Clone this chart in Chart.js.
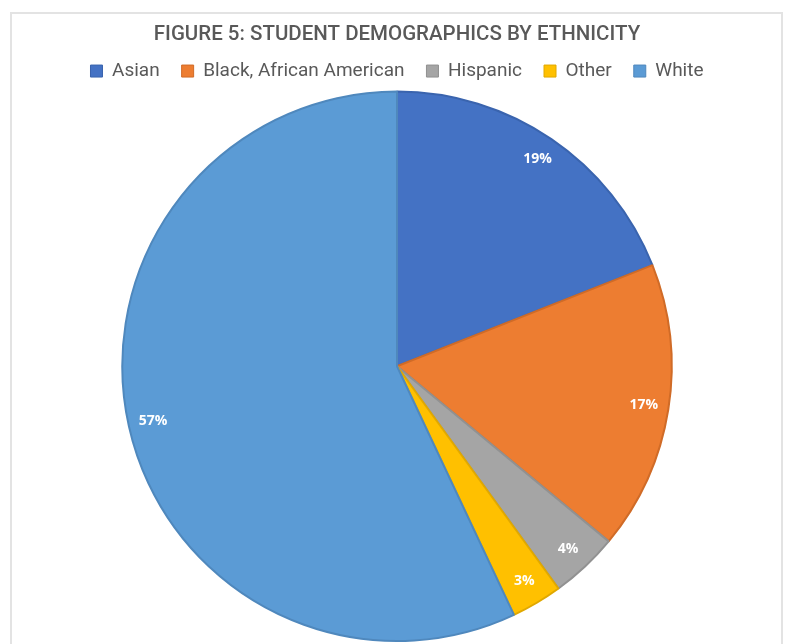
<!DOCTYPE html>
<html>
<head>
<meta charset="utf-8">
<style>
  html, body { margin: 0; padding: 0; background: #ffffff; }
  #wrap { position: relative; width: 790px; height: 644px; overflow: hidden; }
  #frame { position: absolute; left: 10px; top: 12px; width: 773px; height: 700px; border: 2px solid #e3e3e3; box-sizing: border-box; }
  canvas { position: absolute; left: 0; top: 0; }
</style>
<script src="https://cdn.jsdelivr.net/npm/chart.js@4/dist/chart.umd.min.js"></script>
</head>
<body>
<div id="wrap">
  <div id="frame"></div>
  <canvas id="chart" width="790" height="644"></canvas>
</div>
<script>
// Student demographics by ethnicity (percent of students)
const categories = ['Asian', 'Black, African American', 'Hispanic', 'Other', 'White'];
const shares = [19, 17, 4, 3, 57];
const sliceColors = ['#4472C4', '#ED7D31', '#A5A5A5', '#FFC000', '#5B9BD5'];
const sliceEdges = ['#3A64AE', '#D06B27', '#919191', '#E0A800', '#4F88BD'];

// Percent labels written near the outer edge of each slice
const sliceLabels = {
  id: 'sliceLabels',
  afterDatasetsDraw(chart) {
    const ctx = chart.ctx;
    const meta = chart.getDatasetMeta(0);
    const data = chart.data.datasets[0].data;
    const total = data.reduce((a, b) => a + b, 0);
    ctx.save();
    ctx.fillStyle = '#ffffff';
    ctx.font = 'bold 14px "Open Sans", sans-serif';
    ctx.textAlign = 'center';
    ctx.textBaseline = 'middle';
    meta.data.forEach((arc, i) => {
      const p = arc.getProps(['x', 'y', 'startAngle', 'endAngle', 'outerRadius'], true);
      const mid = (p.startAngle + p.endAngle) / 2;
      const r = p.outerRadius * 0.91;
      const pct = Math.round(data[i] / total * 100) + '%';
      ctx.fillText(pct, p.x + Math.cos(mid) * r, p.y + Math.sin(mid) * r);
    });
    ctx.restore();
  }
};

new Chart(document.getElementById('chart'), {
  type: 'pie',
  data: {
    labels: categories,
    datasets: [{
      data: shares,
      backgroundColor: sliceColors,
      borderColor: sliceEdges,
      borderWidth: 2,
      hoverOffset: 0
    }]
  },
  options: {
    responsive: false,
    animation: false,
    layout: { padding: { top: 0, bottom: 2, left: 4, right: 0 } },
    plugins: {
      title: {
        display: true,
        text: 'FIGURE 5: STUDENT DEMOGRAPHICS BY ETHNICITY',
        color: '#595959',
        font: { family: 'Roboto, sans-serif', size: 20.5, weight: '500', lineHeight: 0.32 },
        padding: { top: 32, bottom: 1 }
      },
      legend: {
        display: true,
        position: 'top',
        labels: {
          color: '#595959',
          font: { family: 'Roboto, sans-serif', size: 19 },
          boxWidth: 12,
          boxHeight: 12,
          padding: 22,
          generateLabels(chart) {
            const ds = chart.data.datasets[0];
            return chart.data.labels.map((label, i) => ({
              text: label,
              fillStyle: ds.backgroundColor[i],
              strokeStyle: ds.borderColor[i],
              lineWidth: 1,
              hidden: false,
              index: i,
              fontColor: '#595959'
            }));
          }
        }
      },
      tooltip: { enabled: false }
    }
  },
  plugins: [sliceLabels]
});
</script>
</body>
</html>
